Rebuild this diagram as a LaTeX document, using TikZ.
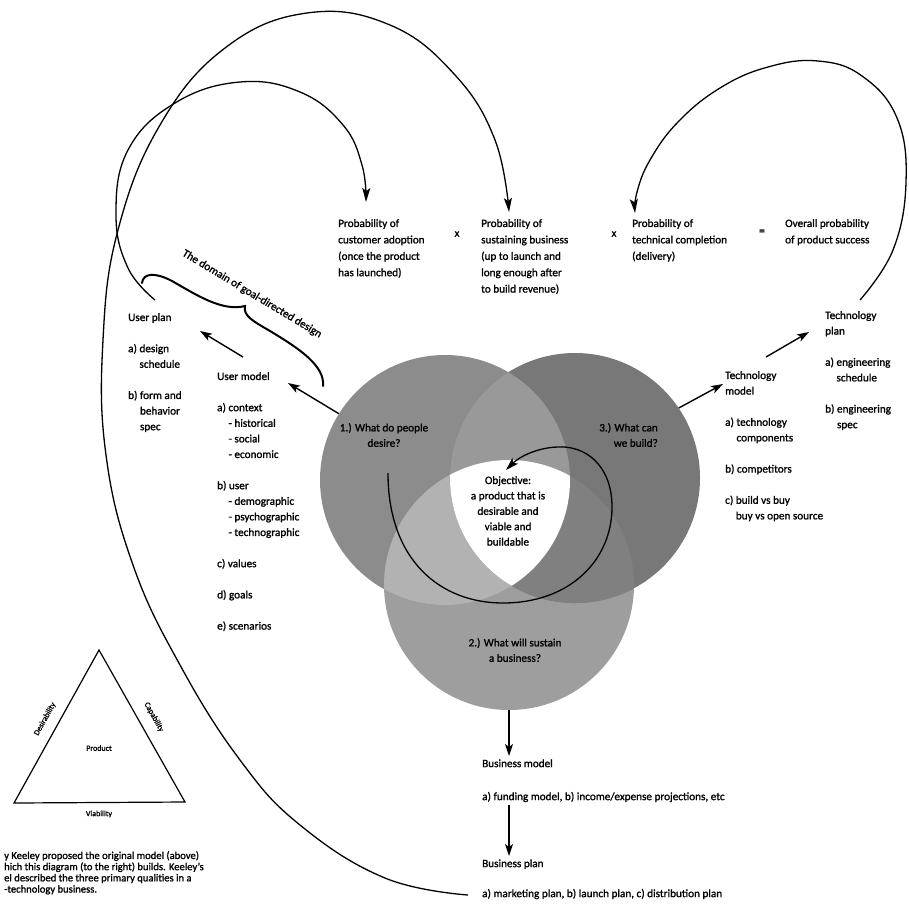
\documentclass[tikz,border=0pt]{standalone}
\usepackage{fontspec}
\setmainfont{Carlito}[FakeBold=1.3]
\usetikzlibrary{arrows.meta,calc}

\definecolor{Lonly}{gray}{0.55}
\definecolor{Ronly}{gray}{0.47}
\definecolor{Bonly}{gray}{0.62}
\definecolor{LRcol}{gray}{0.60}
\definecolor{LBcol}{gray}{0.70}
\definecolor{RBcol}{gray}{0.50}

\begin{document}
\begin{tikzpicture}[x=1pt,y=-1pt,
  txt/.style={anchor=north west,inner sep=0pt,align=left,
    font=\fontsize{11.2}{15.6}\selectfont,execute at begin node=\strut},
  probtxt/.style={txt,font=\fontsize{11.2}{16.4}\selectfont},
  venntxt/.style={inner sep=0pt,font=\fontsize{11.2}{15.4}\selectfont,
    execute at begin node=\strut},
  small/.style={inner sep=0pt,font=\fontsize{8}{9}\selectfont},
  sarrow/.style={line width=1.4pt,-{Stealth[length=12pt,width=8pt,inset=3pt]}},
  bigarc/.style={line width=1.3pt,-{Stealth[length=14pt,width=8pt,inset=3pt]}},
  vennc/.style={circle,minimum size=250pt,inner sep=0pt}]

\useasboundingbox (0,0) rectangle (909,903);

% ---------------- Venn diagram of the three questions ----------------
\node[vennc] (L) at (445,480) {};
\node[vennc] (R) at (575,478) {};
\node[vennc] (B) at (509,585) {};

\fill[Bonly] (B.center) circle (125pt);
\fill[Lonly] (L.center) circle (125pt);
\fill[Ronly] (R.center) circle (125pt);
\begin{scope}
  \clip (L.center) circle (125pt);
  \fill[LRcol] (R.center) circle (125pt);
  \fill[LBcol] (B.center) circle (125pt);
\end{scope}
\begin{scope}
  \clip (R.center) circle (125pt);
  \fill[RBcol] (B.center) circle (125pt);
\end{scope}
\begin{scope}
  \clip (L.center) circle (125pt);
  \clip (R.center) circle (125pt);
  \fill[white] (B.center) circle (125pt);
\end{scope}

\node[venntxt,anchor=north,align=center] (q1) at (384,423) {1.) What do people\\desire?};
\node[venntxt,anchor=north east,align=right] (q3) at (658,423) {3.) What can\\we build?};
\node[venntxt,anchor=north,align=center] (q2) at (515,638) {2.) What will sustain\\a business?};
\node[venntxt,anchor=north,align=center] (obj) at (508,476)
  {Objective:\\a product that is\\desirable and\\viable and\\buildable};

% spiral arrow around the objective
\coordinate (spS) at (388,473);
\coordinate (spE) at (506,470);
\draw[line width=1.3pt,-{Stealth[length=13pt,width=8pt,inset=3pt]}]
  (spS) .. controls (388,560) and (440,603) .. (503,603)
        .. controls (570,603) and (612,560) .. (612,507)
        .. controls (612,465) and (585,445) .. (557,447)
        .. controls (535,448) and (518,458) .. (spE);

% ---------------- probability equation ----------------
\node[probtxt] (p1) at (338,219) {Probability of\\customer adoption\\(once the product\\has launched)};
\node[inner sep=0pt,font=\fontsize{11.2}{14}\selectfont] (x1) at (457,234) {x};
\node[probtxt] (p2) at (481,219) {Probability of\\sustaining business\\(up to launch and\\long enough after\\to build revenue)};
\node[inner sep=0pt,font=\fontsize{11.2}{14}\selectfont] (x2) at (614,234) {x};
\node[probtxt] (p3) at (632,219) {Probability of\\technical completion\\(delivery)};
\node[inner sep=0pt,font=\bfseries\fontsize{11.2}{14}\selectfont] (eq) at (762,232) {=};
\node[probtxt] (ov) at (785,219) {Overall probability\\of product success};

% ---------------- user side ----------------
\node[txt] (uplan) at (128,313) {User plan\\[15.6pt]a) design\\\phantom{a) }schedule\\[15.6pt]b) form and\\\phantom{b) }behavior\\\phantom{b) }spec};
\node[txt] (umodel) at (217,372) {User model\\[15.6pt]a) context\\\phantom{a) }- historical\\\phantom{a) }- social\\\phantom{a) }- economic\\[15.6pt]b) user\\\phantom{a) }- demographic\\\phantom{a) }- psychographic\\\phantom{a) }- technographic\\[15.6pt]c) values\\[15.6pt]d) goals\\[15.6pt]e) scenarios};

\coordinate (umIn) at (288,383);
\coordinate (umOut) at (243,357);
\coordinate (upIn) at (200,331);
\draw[sarrow] (L.148) -- (umIn);
\draw[sarrow] (umOut) -- (upIn);

% brace with its label
\draw[line width=2pt,line cap=round]
  (142,283) .. controls (143,273) and (155,272) .. (172,281)
  .. controls (195,294) and (222,312) .. (245,306)
  .. controls (243,316) and (253,321) .. (270,331)
  .. controls (300,349) and (325,366) .. (323,386);
\node[inner sep=0pt,rotate=-31,font=\fontsize{11.2}{14}\selectfont] (dom) at (252,294)
  {The domain of goal-directed design};

% ---------------- technology side ----------------
\node[txt] (tmodel) at (725,371) {Technology\\model\\[15.6pt]a) technology\\\phantom{a) }components\\[15.6pt]b) competitors\\[15.6pt]c) build vs buy\\\phantom{c) }buy vs open source};
\node[txt] (tplan) at (825,311) {Technology\\plan\\[15.6pt]a) engineering\\\phantom{a) }schedule\\[15.6pt]b) engineering\\\phantom{b) }spec};

\coordinate (tmIn) at (723,384);
\coordinate (tmOut) at (766,357);
\coordinate (tpIn) at (809,332);
\draw[sarrow] (R.34) -- (tmIn);
\draw[sarrow] (tmOut) -- (tpIn);

% ---------------- business side ----------------
\node[txt] (bmodel) at (482,756) {Business model};
\node[txt] (fund) at (482,789) {a) funding model, b) income/expense projections, etc};
\node[txt] (bplan) at (482,856) {Business plan};
\node[txt] (mkt) at (482,886) {a) marketing plan, b) launch plan, c) distribution plan};

\draw[sarrow] (B.south) -- (B.south |- bmodel.north);
\draw[sarrow] (B.south |- fund.south) -- (B.south |- bplan.north);

% ---------------- feedback arcs into the equation ----------------
\coordinate (upTop) at (155,300);
\coordinate (p1In) at (366,202);
\coordinate (mkOut) at (468,895);
\coordinate (p2In) at (509,212);
\coordinate (tpTop) at (860,300);
\coordinate (p3In) at (635,213);

\draw[bigarc] plot[smooth,tension=0.7] coordinates
  {(upTop) (128,268) (116,215) (128,150) (175,103) (240,82) (300,92) (343,125) (362,165) (p1In)};
\draw[bigarc] plot[smooth,tension=0.7] coordinates
  {(mkOut) (385,878) (300,825) (240,760) (180,665) (133,565) (106,455) (103,340) (118,230) (160,125) (225,48) (307,13) (390,25) (455,75) (495,140) (p2In)};
\draw[bigarc] plot[smooth,tension=0.7] coordinates
  {(tpTop) (893,250) (906,182) (897,118) (862,76) (818,61) (768,67) (720,88) (678,122) (650,160) (637,192) (p3In)};

% ---------------- Keeley's triangle ----------------
\coordinate (tA) at (99,650);
\coordinate (tL) at (14,803);
\coordinate (tR) at (185,802);
\draw[line width=1.2pt,line join=miter] (tA) -- (tL) -- (tR) -- cycle;
\node[small,rotate=61] (des) at (45,719) {Desirability};
\node[small,rotate=-61] (cap) at (154,717) {Capability};
\node[small] (prod) at (99,748) {Product};
\node[small] (via) at (99,814) {Viability};

\node[anchor=north west,inner sep=0pt,align=left,font=\fontsize{10.6}{11.2}\selectfont] (keel) at (4,851)
  {y Keeley proposed the original model (above)\\
   hich this diagram (to the right) builds. Keeley's\\
   el described the three primary qualities in a\\
   -technology business.};

\end{tikzpicture}
\end{document}
